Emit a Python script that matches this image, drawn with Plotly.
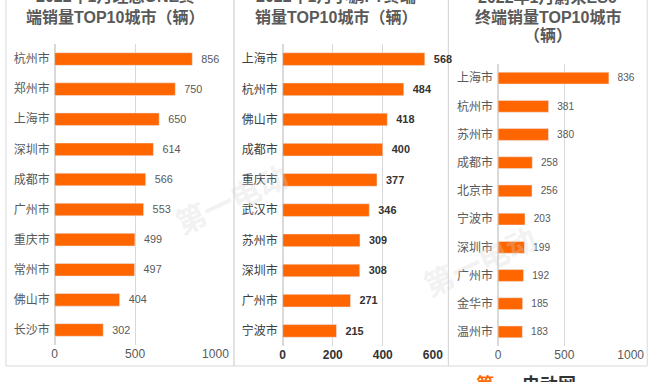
import plotly.graph_objects as go

W, H = 669, 382

# ---- data ----
cities1 = ["杭州市", "郑州市", "上海市", "深圳市", "成都市", "广州市", "重庆市", "常州市", "佛山市", "长沙市"]
values1 = [856, 750, 650, 614, 566, 553, 499, 497, 404, 302]
cities2 = ["上海市", "杭州市", "佛山市", "成都市", "重庆市", "武汉市", "苏州市", "深圳市", "广州市", "宁波市"]
values2 = [568, 484, 418, 400, 377, 346, 309, 308, 271, 215]
cities3 = ["上海市", "杭州市", "苏州市", "成都市", "北京市", "宁波市", "深圳市", "广州市", "金华市", "温州市"]
values3 = [836, 381, 380, 258, 256, 203, 199, 192, 185, 183]
ticks1 = [0, 500, 1000]
ticks2 = [0, 200, 400, 600]
ticks3 = [0, 500, 1000]

BAR = "#FF6600"
GRID = "#D9D9D9"
FONT = "Liberation Sans, Noto Sans CJK SC, sans-serif"

def px(x):
    return x / W

def py(y):
    return 1 - y / H

fig = go.Figure()

panels = [
    dict(c=cities1, v=values1, t=ticks1, rng=[0, 1000], x0=53, x1=218, y0=44, y1=345,
         bold=False, xa="x", ya="y", cat="#595959", val="#595959", pad="  "),
    dict(c=cities2, v=values2, t=ticks2, rng=[0, 600], x0=287, x1=441, y0=44, y1=346,
         bold=True, xa="x2", ya="y2", cat="#404040", val="#333333", pad="  "),
    dict(c=cities3, v=values3, t=ticks3, rng=[0, 1000], x0=508, x1=644, y0=64, y1=346,
         bold=False, xa="x3", ya="y3", cat="#595959", val="#595959", pad="  "),
]

layout_axes = {}
for i, p in enumerate(panels):
    fig.add_trace(go.Bar(
        x=p["v"], y=p["c"], orientation="h", marker_color=BAR, width=0.42,
        text=[p["pad"] + str(v) for v in p["v"]], textposition="outside", cliponaxis=False,
        textfont=dict(size=12, color=p["val"], family=FONT,
                      weight="bold" if p["bold"] else "normal"),
        xaxis=p["xa"], yaxis=p["ya"], showlegend=False, hoverinfo="skip",
    ))
    sx = "" if i == 0 else str(i + 1)
    layout_axes["xaxis" + sx] = dict(
        domain=[px(p["x0"]), px(p["x1"])], range=p["rng"], tickvals=p["t"],
        showgrid=True, gridcolor=GRID, gridwidth=1, zeroline=True, zerolinecolor=GRID,
        showline=False, ticks="", anchor="y" + sx,
        tickfont=dict(size=12, color="#595959" if not p["bold"] else "#333333", family=FONT,
                      weight="bold" if p["bold"] else "normal"),
        fixedrange=True,
    )
    layout_axes["yaxis" + sx] = dict(
        domain=[py(p["y1"]), py(p["y0"])], autorange="reversed", type="category",
        showgrid=False, zeroline=False, showline=False, ticks="", anchor="x" + sx,
        ticklabelstandoff=4,
        tickfont=dict(size=12, color=p["cat"], family=FONT), fixedrange=True,
    )

fig.update_layout(**layout_axes)

shapes = []
# panel borders
for (a, b) in [(3, 237), (237, 457), (457, 661)]:
    shapes.append(dict(type="rect", xref="paper", yref="paper", x0=px(a), x1=px(b),
                       y0=py(366), y1=py(-20), line=dict(color=GRID, width=1),
                       fillcolor="rgba(0,0,0,0)", layer="below"))

TF = dict(size=16, color="#595959", family=FONT, weight="bold")
titles = [
    ("2022年1月理想ONE终", 115, -4),
    ("端销量TOP10城市（辆）", 115, 17),
    ("2022年1月小鹏P7终端", 342, -4),
    ("销量TOP10城市（辆）", 342, 17),
    ("2022年1月蔚来ES6", 559, -3),
    ("终端销量TOP10城市", 559, 17),
    ("（辆）", 559, 36),
]
annotations = []
for txt, x, y in titles:
    annotations.append(dict(text=txt, x=px(x), y=py(y), xref="paper", yref="paper",
                            showarrow=False, xanchor="center", yanchor="middle", font=TF))

# faint watermark
for x, y in [(235, 200), (555, 305)]:
    annotations.append(dict(text="第一电动", x=px(x), y=py(y), xref="paper", yref="paper",
                            showarrow=False, textangle=-25,
                            font=dict(size=30, color="rgba(210,210,210,0.3)", family=FONT, weight="bold")))
# bottom logo (partially cut)
annotations.append(dict(text="<span style='color:#FF6600'>第一</span>  电动网", x=px(590), y=py(384),
                        xref="paper", yref="paper", showarrow=False, yanchor="middle",
                        font=dict(size=18, color="#333333", family=FONT, weight="bold")))

fig.update_layout(
    width=W, height=H, margin=dict(l=0, r=0, t=0, b=0),
    paper_bgcolor="white", plot_bgcolor="white",
    shapes=shapes, annotations=annotations, bargap=0.58,
    font=dict(family=FONT),
)

fig.write_html("out.html", config={"displayModeBar": False},
               post_script="document.body.style.margin='0';document.body.style.overflow='hidden';")
